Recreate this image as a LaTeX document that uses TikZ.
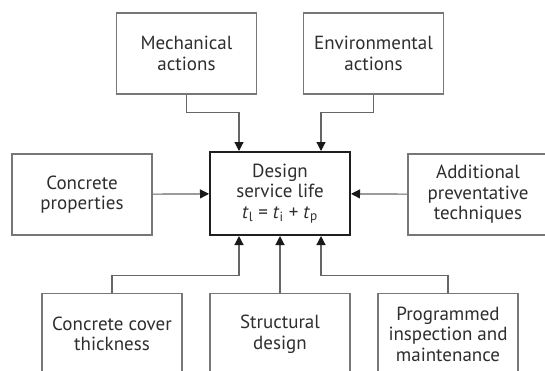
\documentclass[tikz,border=0pt]{standalone}
\usepackage{fontspec}
\setmainfont{PT Sans}
\usetikzlibrary{positioning}
\usetikzlibrary{arrows.meta}
\definecolor{boxgray}{HTML}{777777}
\definecolor{textgray}{HTML}{2E2E2E}
\definecolor{linegray}{HTML}{666666}

\begin{document}
\begin{tikzpicture}[x=1pt,y=-1pt,
  box/.style={rectangle,draw=boxgray,line width=1.3pt,fill=white,text=textgray,
    minimum width=140pt,minimum height=81pt,inner sep=0pt,align=center,
    font=\fontsize{19}{20.5}\selectfont},
  mainbox/.style={box,draw=black!88,line width=2pt,minimum height=83pt},
  link/.style={draw=linegray,line width=1.2pt,
    -{Triangle[width=9pt,length=9pt,color=black!90]}}]

  \useasboundingbox (0,0) rectangle (545,370);

  % 2. Ebene
  \node[mainbox] (life) at (280,193.5)
    {Design\\service life\\\textit{t}\textsubscript{l} = \textit{t}\textsubscript{i} + \textit{t}\textsubscript{p}};
  \node[box] (props) [left=198pt of life.center,anchor=center,yshift=-1pt] {Concrete\\properties};
  \node[box] (extra) [right=198pt of life.center,anchor=center,yshift=-1pt] {Additional\\preventative\\techniques};

  % 1. Ebene
  \node[box] (mech) [above left=140pt and 93.5pt of life.center,anchor=center] {Mechanical\\actions};
  \node[box] (env)  [above right=140pt and 93.5pt of life.center,anchor=center] {Environmental\\actions};

  % 3. Ebene
  \node[box] (cover)  [below left=140.5pt and 168pt of life.center,anchor=center] {Concrete cover\\thickness};
  \node[box] (struct) [below=140.5pt of life.center,anchor=center] {Structural\\design};
  \node[box] (insp)   [below right=140.5pt and 168pt of life.center,anchor=center] {Programmed\\inspection and\\maintenance};

  \draw[link] (mech.south) -- ++(0,18) -| ([xshift=-41pt]life.north);
  \draw[link] (env.south)  -- ++(0,18) -| ([xshift=41pt]life.north);
  \draw[link] (cover.north) -- ++(0,-17) -| ([xshift=-41pt]life.south);
  \draw[link] (insp.north)  -- ++(0,-17) -| ([xshift=41pt]life.south);

  \path[link]
    (props)  edge (life)
    (extra)  edge (life)
    (struct) edge (life);

\end{tikzpicture}
\end{document}
